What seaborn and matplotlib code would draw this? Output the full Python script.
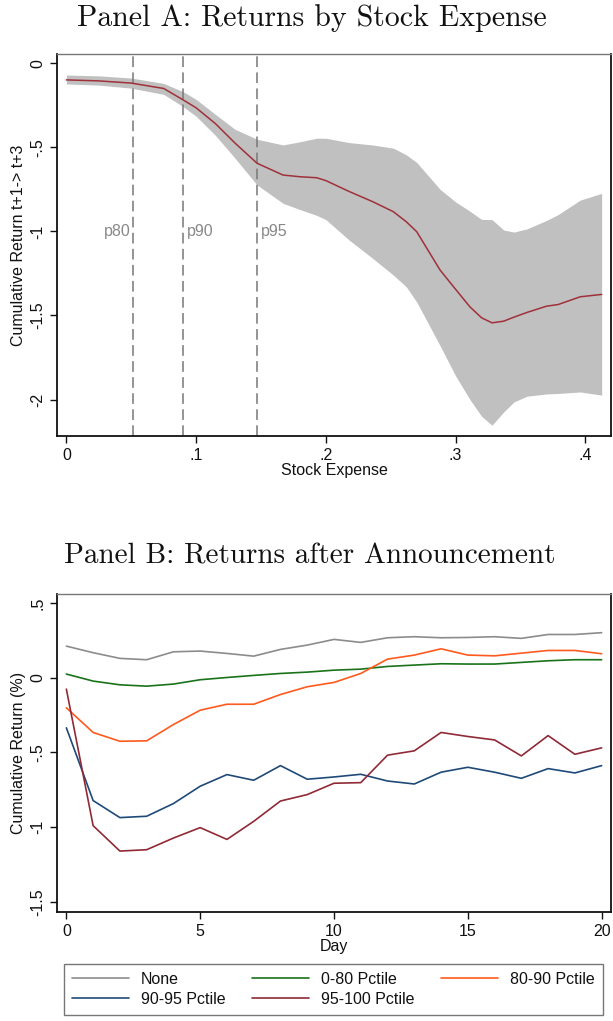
import numpy as np
import pandas as pd
import matplotlib
matplotlib.use("Agg")
import matplotlib.pyplot as plt
import seaborn as sns
from matplotlib.ticker import FixedLocator

sns.set_theme(style="white")
plt.rcParams["font.family"] = ["Liberation Sans", "DejaVu Sans"]

# Panel A: smoothed cumulative return by stock expense with confidence band
expense = [0.0, 0.025, 0.05, 0.075, 0.09, 0.1, 0.115, 0.13, 0.147, 0.167,
           0.18, 0.193, 0.2, 0.218, 0.236, 0.252, 0.262, 0.27, 0.288, 0.30,
           0.311, 0.32, 0.328, 0.337, 0.345, 0.355, 0.37, 0.379, 0.396, 0.4125]
ret_mean = [-0.099, -0.105, -0.118, -0.15, -0.218, -0.265, -0.36, -0.475, -0.595, -0.665,
            -0.675, -0.681, -0.698, -0.763, -0.823, -0.883, -0.943, -1.002, -1.23, -1.345,
            -1.449, -1.514, -1.544, -1.534, -1.51, -1.482, -1.445, -1.435, -1.389, -1.375]
ret_upper = [-0.07, -0.075, -0.088, -0.12, -0.169, -0.215, -0.305, -0.393, -0.452, -0.486,
             -0.467, -0.446, -0.446, -0.472, -0.486, -0.505, -0.545, -0.59, -0.75, -0.825,
             -0.88, -0.929, -0.93, -0.992, -1.004, -0.985, -0.935, -0.9, -0.814, -0.774]
ret_lower = [-0.123, -0.13, -0.148, -0.185, -0.258, -0.315, -0.43, -0.565, -0.724, -0.833,
             -0.87, -0.905, -0.93, -1.052, -1.16, -1.26, -1.33, -1.42, -1.68, -1.86,
             -2.0, -2.1, -2.153, -2.074, -2.014, -1.98, -1.967, -1.964, -1.955, -1.974]
pct_labels = ["p80", "p90", "p95"]
pct_values = [0.0514, 0.0899, 0.147]

# Panel B: cumulative return by day after announcement
days = list(range(21))
groups = ["None", "0-80 Pctile", "80-90 Pctile", "90-95 Pctile", "95-100 Pctile"]
ret_none = [0.212, 0.168, 0.130, 0.121, 0.174, 0.179, 0.163, 0.145, 0.190, 0.219, 0.257,
            0.237, 0.268, 0.275, 0.268, 0.270, 0.275, 0.264, 0.290, 0.290, 0.302]
ret_0_80 = [0.025, -0.022, -0.047, -0.056, -0.042, -0.013, 0.002, 0.016, 0.029, 0.038, 0.051,
            0.058, 0.076, 0.085, 0.094, 0.092, 0.092, 0.103, 0.114, 0.121, 0.121]
ret_80_90 = [-0.201, -0.366, -0.425, -0.422, -0.313, -0.217, -0.177, -0.177, -0.112, -0.060, -0.031,
             0.029, 0.125, 0.152, 0.194, 0.152, 0.147, 0.165, 0.183, 0.183, 0.161]
ret_90_95 = [-0.335, -0.822, -0.936, -0.927, -0.842, -0.726, -0.648, -0.686, -0.588, -0.679, -0.664,
             -0.646, -0.691, -0.711, -0.632, -0.599, -0.632, -0.673, -0.608, -0.637, -0.588]
ret_95_100 = [-0.076, -0.990, -1.160, -1.151, -1.073, -1.003, -1.082, -0.961, -0.825, -0.782, -0.706,
              -0.702, -0.518, -0.489, -0.366, -0.393, -0.416, -0.523, -0.387, -0.512, -0.469]
group_colors = ["#8c8c8c", "#1a731a", "#ff5a1e", "#1f4a78", "#8f2a36"]

W, H = 613, 1021
FS = 11.5
fig = plt.figure(figsize=(W / 100, H / 100), dpi=100)

def px_axes(left, top, right, bottom):
    return fig.add_axes([left / W, 1 - bottom / H, (right - left) / W, (bottom - top) / H])

def style_axes(ax):
    for side in ["left", "bottom", "right"]:
        ax.spines[side].set_color("#111111")
        ax.spines[side].set_linewidth(1.3)
    ax.spines["top"].set_color("#777777")
    ax.spines["top"].set_linewidth(1.0)
    ax.tick_params(axis="both", which="both", direction="out", length=5, width=1.0,
                   color="#111111", labelsize=FS, labelcolor="#111111",
                   bottom=True, left=True)
    ax.tick_params(axis="y", labelrotation=90)
    for lab in ax.get_yticklabels():
        lab.set_verticalalignment("center")
    ax.grid(False)

def stata_fmt(v):
    s = f"{v:g}"
    return s.replace("0.", ".")

# ---------- Panel A ----------
axA = px_axes(57, 54, 611, 436)
dfA = pd.DataFrame({"expense": expense, "ret": ret_mean,
                    "lo": ret_lower, "hi": ret_upper})
axA.fill_between(dfA["expense"], dfA["lo"], dfA["hi"], color="#c0c0c0", lw=0, zorder=1)
sns.lineplot(data=dfA, x="expense", y="ret", ax=axA, color="#a0303a", lw=1.1, zorder=3)
for lab, v in zip(pct_labels, pct_values):
    axA.axvline(v, color="#777777", lw=1.1, ls=(0, (7, 3.5)), zorder=2)
    if lab == "p80":
        axA.text(v - 0.002, -1.0, lab, ha="right", va="center", color="#888888", fontsize=FS)
    else:
        axA.text(v + 0.003, -1.0, lab, ha="left", va="center", color="#888888", fontsize=FS)
axA.set_xlim(-0.0072, 0.4197)
axA.set_ylim(-2.217, 0.055)
xt = [0, 0.1, 0.2, 0.3, 0.4]
yt = [0, -0.5, -1, -1.5, -2]
axA.xaxis.set_major_locator(FixedLocator(xt))
axA.yaxis.set_major_locator(FixedLocator(yt))
axA.set_xticklabels([stata_fmt(v) for v in xt])
axA.set_yticklabels([stata_fmt(v) for v in yt])
style_axes(axA)
axA.set_xlabel("Stock Expense", fontsize=FS, color="#111111", labelpad=0)
axA.set_ylabel("Cumulative Return t+1-> t+3", fontsize=FS, color="#111111", labelpad=3)
fig.text(312 / W, 1 - 18 / H, "Panel A: Returns by Stock Expense", ha="center", va="center",
         family="cmr10", size=21.5, color="#111111")

# ---------- Panel B ----------
axB = px_axes(57, 594, 611, 912)
series = [ret_none, ret_0_80, ret_80_90, ret_90_95, ret_95_100]
dfB = pd.concat([pd.DataFrame({"Day": days, "ret": vals, "group": g})
                 for g, vals in zip(groups, series)], ignore_index=True)
sns.lineplot(data=dfB, x="Day", y="ret", hue="group", hue_order=groups,
             palette=group_colors, ax=axB, lw=1.2, legend=False)
axB.set_xlim(-0.35, 20.35)
axB.set_ylim(-1.568, 0.561)
xtB = [0, 5, 10, 15, 20]
ytB = [0.5, 0, -0.5, -1, -1.5]
axB.xaxis.set_major_locator(FixedLocator(xtB))
axB.yaxis.set_major_locator(FixedLocator(ytB))
axB.set_xticklabels([str(v) for v in xtB])
axB.set_yticklabels([stata_fmt(v) for v in ytB])
style_axes(axB)
axB.set_xlabel("Day", fontsize=FS, color="#111111", labelpad=0)
axB.set_ylabel("Cumulative Return (%)", fontsize=FS, color="#111111", labelpad=3)
fig.text(310 / W, 1 - 556 / H, "Panel B: Returns after Announcement", ha="center", va="center",
         family="cmr10", size=21, color="#111111")

# legend entries laid out row by row (matplotlib fills columns first)
order = [0, 3, 1, 4, 2]
handles = [plt.Line2D([], [], color=group_colors[i], lw=1.2) for i in order]
labels = [groups[i] for i in order]
leg = fig.legend(handles, labels, loc="upper left", ncol=3,
                 bbox_to_anchor=(64 / W, 1 - 964 / H), frameon=True, fancybox=False,
                 fontsize=FS, handlelength=3.6, handletextpad=0.72, columnspacing=1.65,
                 borderpad=0.5, labelspacing=0.3, borderaxespad=0)
leg.get_frame().set_edgecolor("#555555")
leg.get_frame().set_linewidth(1.0)
for t in leg.get_texts():
    t.set_color("#111111")

fig.savefig("out.png", dpi=100, facecolor="white")
